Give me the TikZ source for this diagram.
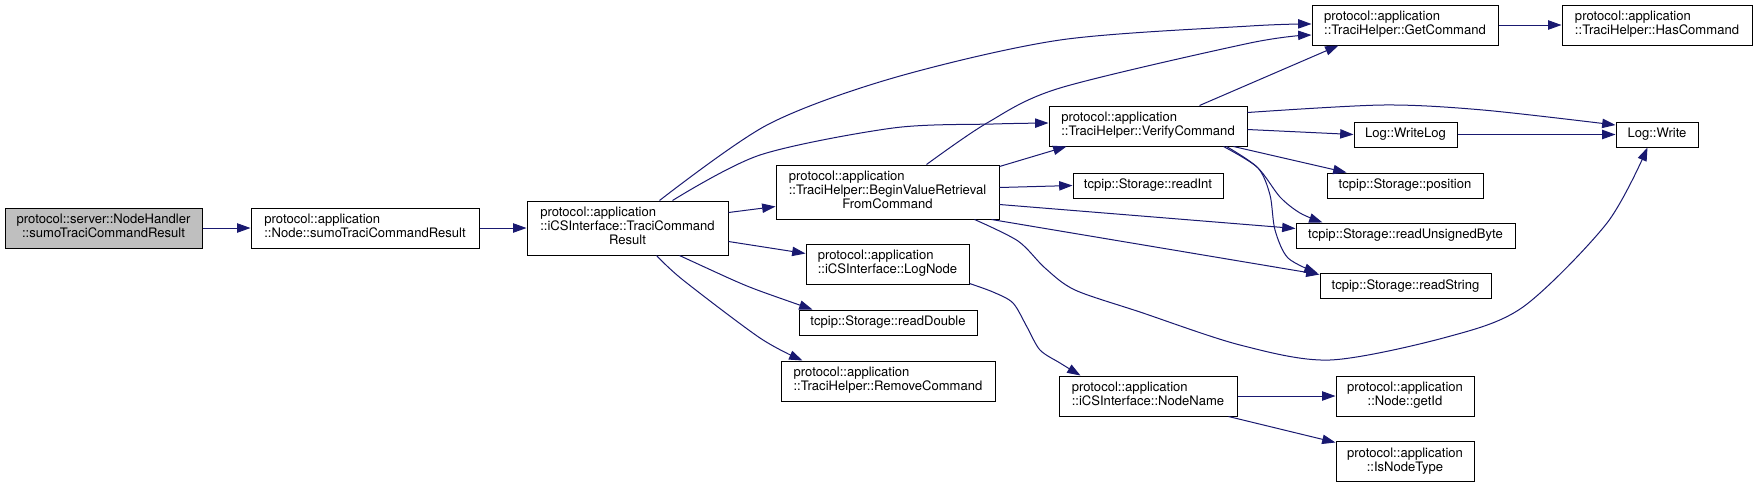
\documentclass[tikz,border=0pt]{standalone}
\usepackage{fontspec}
\setmainfont{TeX Gyre Heros}
\usetikzlibrary{arrows.meta,calc}
\definecolor{edgecol}{RGB}{25,25,112}
\definecolor{rootfill}{RGB}{191,191,191}
\newcommand\twoline[2]{\begin{tabular}{@{}l@{}}#1\\\multicolumn{1}{@{}c@{}}{#2}\end{tabular}}
\newcommand\threeline[3]{\begin{tabular}{@{}l@{}}#1\\#2\\\multicolumn{1}{@{}c@{}}{#3}\end{tabular}}
\begin{document}
\begin{tikzpicture}[x=0.75pt,y=-0.75pt,
  box/.style={draw=black, line width=0.75pt, fill=white, inner sep=0pt,
    font=\fontsize{9.8}{10.5}\selectfont, text=black},
  wh/.style 2 args={minimum width=#1*0.75pt, minimum height=#2*0.75pt},
  edge/.style={draw=edgecol, line width=0.75pt, -{Triangle[length=10pt,width=7pt]}},
  cv/.style={smooth, tension=0.5}]
\fill[white] (0,0) rectangle (1757,487);
\useasboundingbox (0,0) rectangle (1757,487);

% nodes
\node[box, wh={197}{40}, fill=rootfill] (NH) at (103.5,228) {\twoline{protocol::server::NodeHandler}{::sumoTraciCommandResult}};
\node[box, wh={228}{40}] (NS) at (365,228) {\twoline{protocol::application}{::Node::sumoTraciCommandResult}};
\node[box, wh={201}{54}] (TCR) at (627.5,228) {\threeline{protocol::application}{::iCSInterface::TraciCommand}{Result}};
\node[box, wh={223}{54}] (BVR) at (887.5,192) {\threeline{protocol::application}{::TraciHelper::BeginValueRetrieval}{FromCommand}};
\node[box, wh={163}{40}] (LN) at (887.5,264) {\twoline{protocol::application}{::iCSInterface::LogNode}};
\node[box, wh={178}{25}] (RD) at (888,322.5) {tcpip::Storage::readDouble};
\node[box, wh={214}{40}] (RC) at (888,381) {\twoline{protocol::application}{::TraciHelper::RemoveCommand}};
\node[box, wh={186}{40}] (GC) at (1405,25) {\twoline{protocol::application}{::TraciHelper::GetCommand}};
\node[box, wh={190}{40}] (HC) at (1657,25) {\twoline{protocol::application}{::TraciHelper::HasCommand}};
\node[box, wh={198}{40}] (VC) at (1148,126) {\twoline{protocol::application}{::TraciHelper::VerifyCommand}};
\node[box, wh={103}{25}] (WL) at (1405.5,134.5) {Log::WriteLog};
\node[box, wh={82}{25}] (W) at (1657,134.5) {Log::Write};
\node[box, wh={150}{25}] (RI) at (1148,185.5) {tcpip::Storage::readInt};
\node[box, wh={156}{25}] (POS) at (1405,185.5) {tcpip::Storage::position};
\node[box, wh={219}{25}] (RUB) at (1405.5,235.5) {tcpip::Storage::readUnsignedByte};
\node[box, wh={171}{25}] (RS) at (1405.5,286) {tcpip::Storage::readString};
\node[box, wh={178}{40}] (NN) at (1148,396) {\twoline{protocol::application}{::iCSInterface::NodeName}};
\node[box, wh={138}{40}] (GID) at (1405,396) {\twoline{protocol::application}{::Node::getId}};
\node[box, wh={138}{40}] (INT) at (1405,461.5) {\twoline{protocol::application}{::IsNodeType}};

% straight connectors
\draw[edge] (NH.east) -- (NS.west);
\draw[edge] (NS.east) -- (TCR.west);
\draw[edge] ($(TCR.north east)+(0,12)$) -- ($(BVR.north west)+(0,42)$);
\draw[edge] ($(TCR.north east)+(0,41)$) -- ($(LN.north west)+(0,10)$);
\draw[edge] (GC.east) -- (HC.west);
\draw[edge] (WL.east) -- (W.west);
\draw[edge] (NN.east) -- (GID.west);
\draw[edge] ($(NN.south east)+(-9,0)$) -- ($(INT.north west)+(0,1.5)$);
\draw[edge] ($(VC.north west)+(151,0)$) -- ($(GC.south west)+(27,0)$);
\draw[edge] ($(VC.north east)+(0,24)$) -- (WL.west);
\draw[edge] ($(VC.south east)+(-14,0)$) -- ($(POS.north west)+(20,0)$);
\draw[edge] ($(BVR.north east)+(0,2)$) -- ($(VC.south west)+(18,0)$);
\draw[edge] ($(BVR.north east)+(0,23)$) -- (RI.west);
\draw[edge] ($(BVR.north east)+(0,40)$) -- ($(RUB.north west)+(0,6)$);
\draw[edge] ($(BVR.south east)+(-8,0)$) -- ($(RS.north west)+(0,1.5)$);

% curved connectors: end coordinates
\coordinate (a1) at ($(TCR.north west)+(133,0)$);
\coordinate (b1) at ($(GC.west)+(0,-1)$);
\coordinate (a2) at ($(TCR.north west)+(146,0)$);
\coordinate (b2) at ($(VC.west)+(0,-3)$);
\coordinate (a3) at ($(TCR.south west)+(153,0)$);
\coordinate (b3) at ($(RD.north west)+(14,0)$);
\coordinate (a4) at ($(TCR.south west)+(130,0)$);
\coordinate (b4) at ($(RC.north west)+(22,0)$);
\coordinate (a5) at ($(BVR.north west)+(151,0)$);
\coordinate (b5) at ($(GC.west)+(0,10)$);
\coordinate (a6) at ($(BVR.south west)+(199,0)$);
\coordinate (b6) at ($(W.south west)+(32,0)$);
\coordinate (a7) at ($(VC.north east)+(0,7)$);
\coordinate (b7) at ($(W.west)+(0,-9.5)$);
\coordinate (a8) at ($(VC.south east)+(-24,0)$);
\coordinate (b8) at ($(RUB.north west)+(27,0)$);
\coordinate (a9) at ($(VC.south east)+(-21,0)$);
\coordinate (b9) at ($(RS.north west)+(-2,0)$);
\coordinate (a10) at ($(LN.south east)+(0,-1)$);
\coordinate (b10) at ($(NN.north west)+(22,0)$);

\draw[edge] plot[cv] coordinates {(a1) (767,125) (893,78) (1060,40) (1250,26) (b1)};
\draw[edge] plot[cv] coordinates {(a2) (760,155) (893,128) (993,124) (b2)};
\draw[edge] plot[cv] coordinates {(a3) (733,280) (760,291) (b3)};
\draw[edge] plot[cv] coordinates {(a4) (683,280) (760,338) (b4)};
\draw[edge] plot[cv] coordinates {(a5) (987,123) (1060,88) (1250,43) (b5)};
\draw[edge] plot[cv] coordinates {(a6) (1018,241) (1045,268) (1075,290) (1140,312) (1240,345) (1330,360) (1447,337) (1523,307) (1607,223) (b6)};
\draw[edge] plot[cv] coordinates {(a7) (1383,105) (1483,110) (b7)};
\draw[edge] plot[cv] coordinates {(a8) (1257,167) (1280,197) (1300,213) (b8)};
\draw[edge] plot[cv] coordinates {(a9) (1258,168) (1270,195) (1275,230) (1288,258) (b9)};
\draw[edge] plot[cv] coordinates {(a10) (993,292) (1013,303) (1027,327) (1040,350) (1060,363) (b10)};
\end{tikzpicture}
\end{document}
